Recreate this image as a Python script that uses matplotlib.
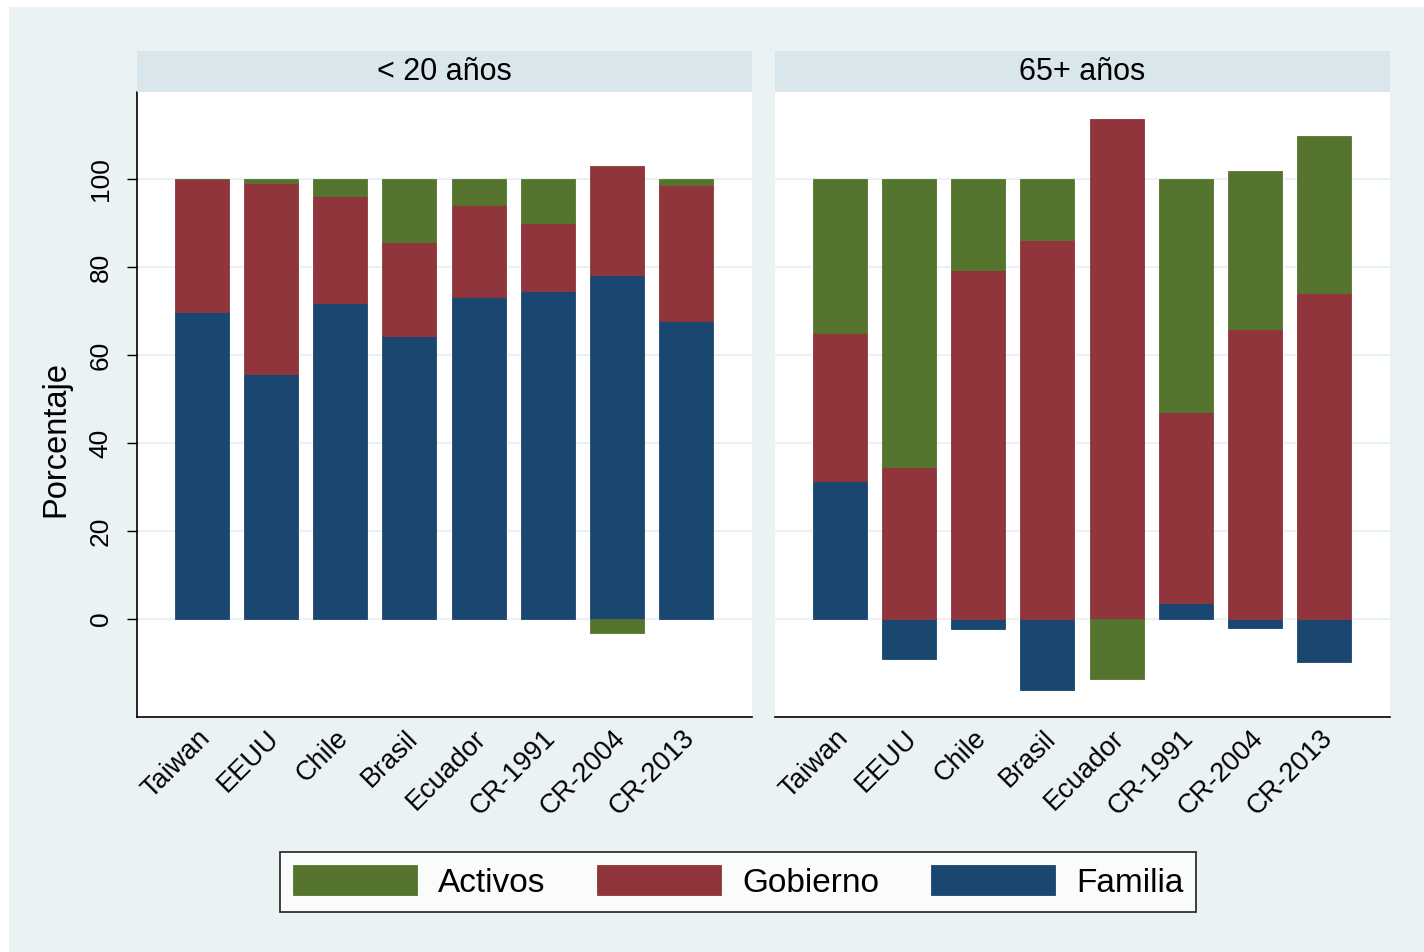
import matplotlib
matplotlib.use("Agg")
import matplotlib.pyplot as plt
import matplotlib.transforms as mtransforms
import numpy as np
from matplotlib.patches import Rectangle

plt.rcParams['font.family'] = ['Liberation Sans', 'DejaVu Sans']

categories = ["Taiwan", "EEUU", "Chile", "Brasil", "Ecuador", "CR-1991", "CR-2004", "CR-2013"]
panels = ["< 20 años", "65+ años"]

# < 20 años
fam_young = [69.8, 55.7, 71.8, 64.4, 73.3, 74.5, 78.2, 67.7]
gob_young = [30.2, 43.3, 24.3, 21.4, 20.9, 15.6, 24.8, 31.0]
act_young = [0.0, 1.0, 3.9, 14.2, 5.8, 9.9, -3.1, 1.3]

# 65+ años
fam_old = [31.4, -9.0, -2.2, -16.1, 0.0, 3.7, -2.0, -9.8]
gob_old = [33.5, 34.6, 79.3, 86.1, 113.6, 43.3, 66.0, 74.0]
act_old = [35.1, 65.4, 20.7, 13.9, -13.6, 53.0, 35.8, 35.8]

series_names = ["Familia", "Gobierno", "Activos"]
colors = {"Familia": "#1a476f", "Gobierno": "#90353b", "Activos": "#55752f"}
yticks = [0, 20, 40, 60, 80, 100]

W, H = 1424, 952
fig = plt.figure(figsize=(W / 100, H / 100), dpi=100, facecolor="white")
fig.patches.append(Rectangle((9 / W, 0), 1 - 9 / W, 1 - 7 / H, transform=fig.transFigure,
                             facecolor="#eaf2f3", edgecolor="none", zorder=-10))

def px(x0, y0, x1, y1):
    return [x0 / W, 1 - y1 / H, (x1 - x0) / W, (y1 - y0) / H]

axes_px = [(137, 92, 752, 717), (775, 92, 1390, 717)]
data = [(fam_young, gob_young, act_young), (fam_old, gob_old, act_old)]

handles = {}
for i, (box, title, vals) in enumerate(zip(axes_px, panels, data)):
    ax = fig.add_axes(px(*box))
    ax.set_facecolor("white")
    x = np.arange(len(categories))
    pos_bottom = np.zeros(len(categories))
    neg_bottom = np.zeros(len(categories))
    for name, v in zip(series_names, vals):
        v = np.array(v, dtype=float)
        bottoms = np.where(v >= 0, pos_bottom, neg_bottom)
        b = ax.bar(x, v, bottom=bottoms, width=0.78, color=colors[name],
                   edgecolor=colors[name], linewidth=0.6, zorder=3)
        handles[name] = b
        pos_bottom = pos_bottom + np.where(v > 0, v, 0)
        neg_bottom = neg_bottom + np.where(v < 0, v, 0)
    ax.set_xlim(-0.94, 7.955)
    ax.set_ylim(-22.3, 119.8)
    ax.set_yticks(yticks)
    for yt in yticks:
        ax.axhline(yt, color="#eaf2f3", linewidth=1.6, zorder=1)
    ax.set_xticks(x)
    ax.set_xticklabels(categories, rotation=45, ha="right", va="top",
                       rotation_mode="anchor", fontsize=19.5)
    ax.tick_params(axis="x", length=0, pad=6)
    off = mtransforms.ScaledTranslation(-5 / 100, 0, fig.dpi_scale_trans)
    for lab in ax.get_xticklabels():
        lab.set_transform(lab.get_transform() + off)
    for s in ["top", "right"]:
        ax.spines[s].set_visible(False)
    ax.spines["bottom"].set_color("black")
    ax.spines["bottom"].set_linewidth(1.2)
    if i == 0:
        ax.spines["left"].set_color("black")
        ax.spines["left"].set_linewidth(1.2)
        ax.set_yticklabels([str(t) for t in yticks], rotation=90, va="center", fontsize=19)
        ax.tick_params(axis="y", length=7.5, width=1.0, pad=10)
    else:
        ax.spines["left"].set_visible(False)
        ax.tick_params(axis="y", length=0, labelleft=False)
    # strip
    sx0, sy0, sx1, sy1 = box[0], 51, box[2], 92
    sax = fig.add_axes(px(sx0, sy0, sx1, sy1))
    sax.set_facecolor("#d9e6eb")
    sax.set_xticks([]); sax.set_yticks([])
    for s in sax.spines.values():
        s.set_visible(False)
    sax.text(0.5, 0.5, title, ha="center", va="center", fontsize=22, transform=sax.transAxes)

fig.text(56 / W, 1 - 439 / H, "Porcentaje", rotation=90, ha="center", va="center", fontsize=23.5)

leg = fig.legend([handles["Activos"], handles["Gobierno"], handles["Familia"]],
                 ["Activos", "Gobierno", "Familia"], loc="center",
                 bbox_to_anchor=(738 / W, 1 - 882 / H), ncol=3, fontsize=24,
                 frameon=True, fancybox=False, handlelength=3.72, handleheight=1.0,
                 handletextpad=0.63, columnspacing=1.56, borderpad=0.39,
                 borderaxespad=0)
leg.get_frame().set_edgecolor("black")
leg.get_frame().set_linewidth(1.3)
leg.get_frame().set_facecolor("white")

fig.savefig("out.png", dpi=100, facecolor=fig.get_facecolor())
